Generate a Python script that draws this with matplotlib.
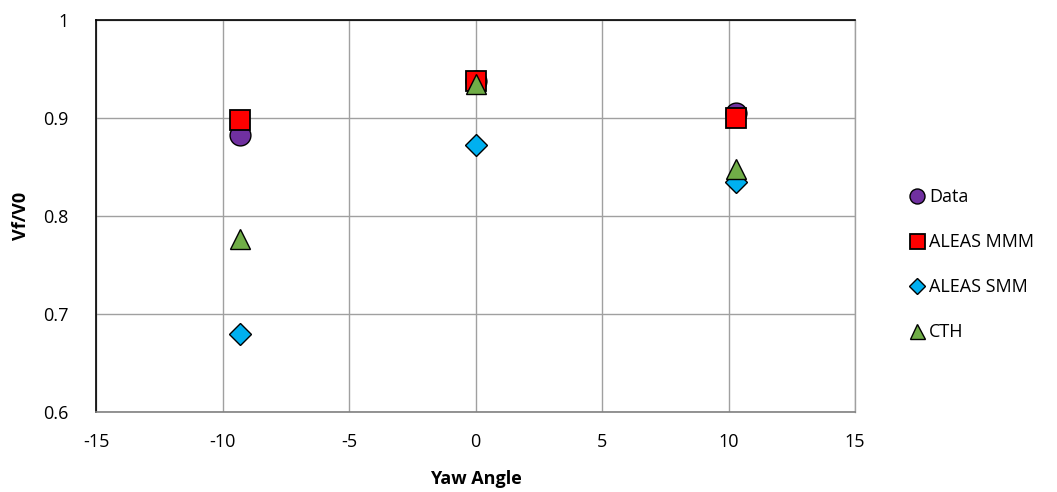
import matplotlib
matplotlib.use("Agg")
import matplotlib.pyplot as plt

plt.rcParams['font.family'] = ['Open Sans', 'DejaVu Sans']

yaw = [-9.3, 0.0, 10.3]
data_vals = [0.883, 0.938, 0.905]
mmm_vals = [0.898, 0.938, 0.900]
smm_vals = [0.680, 0.872, 0.835]
cth_vals = [0.777, 0.935, 0.848]

xticks = [-15, -10, -5, 0, 5, 10, 15]
yticks = [0.6, 0.7, 0.8, 0.9, 1.0]
ytick_labels = ['0.6', '0.7', '0.8', '0.9', '1']

fig = plt.figure(figsize=(10.57, 4.92), dpi=100)
ax = fig.add_axes([96/1057, 1 - 412/492, (855-96)/1057, (412-20)/492])

ax.plot(yaw, data_vals, 'o', ms=15, mfc='#7030A0', mec='black', mew=1, ls='none', label='Data', zorder=3)
ax.plot(yaw, mmm_vals, 's', ms=15, mfc='#FF0000', mec='black', mew=1.3, ls='none', label='ALEAS MMM', zorder=4)
ax.plot(yaw, smm_vals, 'D', ms=11, mfc='#00B0F0', mec='black', mew=1, ls='none', label='ALEAS SMM', zorder=5)
ax.plot(yaw, cth_vals, '^', ms=15, mfc='#70AD47', mec='black', mew=1, ls='none', label='CTH', zorder=6)

ax.set_xlim(-15, 15)
ax.set_ylim(0.6, 1.0)
ax.set_xticks(xticks)
ax.set_xticklabels([str(t) for t in xticks])
ax.set_yticks(yticks)
ax.set_yticklabels(ytick_labels)
ax.tick_params(axis='x', length=0, labelsize=13, pad=15)
ax.tick_params(axis='y', length=0, labelsize=13, pad=20)
ax.grid(True, color='#A0A0A0', lw=1)
ax.set_axisbelow(True)
for s in ['top', 'left']:
    ax.spines[s].set_color('black')
    ax.spines[s].set_linewidth(1.2)
ax.spines['bottom'].set_color('#808080')
ax.spines['bottom'].set_linewidth(1.2)
ax.spines['right'].set_color('#A0A0A0')
ax.spines['right'].set_linewidth(1)

ax.set_xlabel('Yaw Angle', fontsize=13, fontweight='bold', labelpad=14)
ax.set_ylabel('Vf/V0', fontsize=13, fontweight='bold', labelpad=9)

leg = fig.legend(loc='upper left', bbox_to_anchor=(902/1057, 1 - 179/492), frameon=False,
                 fontsize=13, markerscale=0.72, handlelength=0.7, handletextpad=0.3,
                 labelspacing=1.5, borderpad=0)

fig.savefig('out.png', dpi=100)
